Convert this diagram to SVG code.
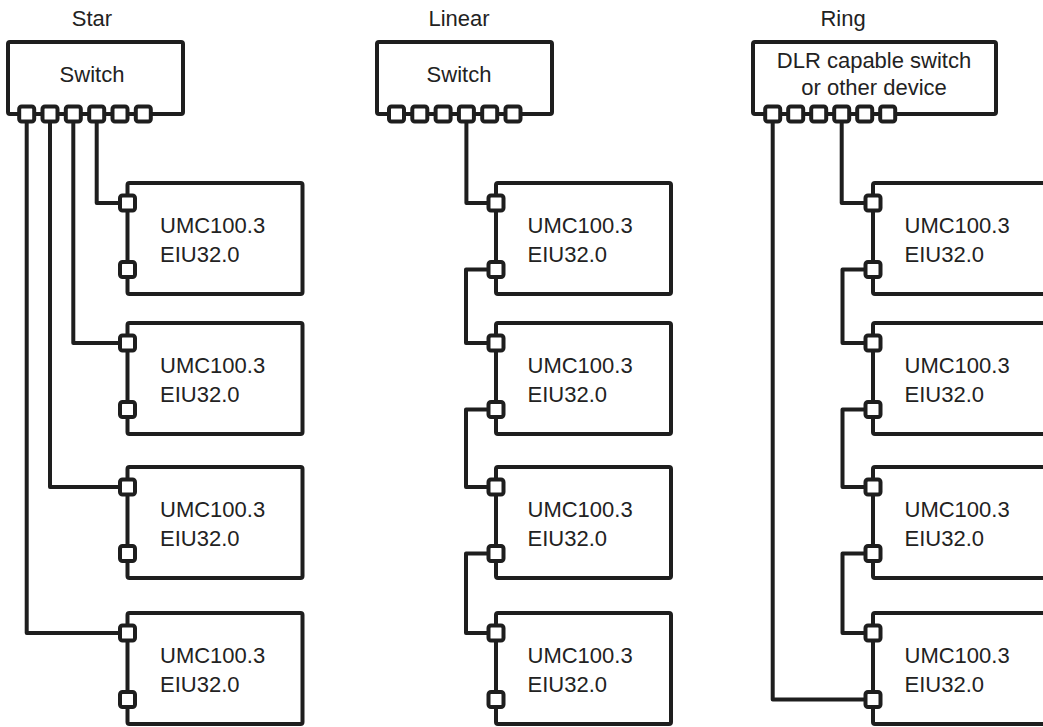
<svg xmlns="http://www.w3.org/2000/svg" xmlns:xlink="http://www.w3.org/1999/xlink" width="1043" height="727" viewBox="0 0 1043 727">
  <style>
    .box { fill: #ffffff; stroke: #1e1e1e; stroke-width: 4; stroke-linejoin: round; }
    .port { fill: #ffffff; stroke: #1e1e1e; stroke-width: 4; }
    .wire { fill: none; stroke: #1e1e1e; stroke-width: 4; stroke-linejoin: round; stroke-linecap: butt; }
    text { font-family: "Liberation Sans", Arial, sans-serif; font-size: 22px; fill: #222222; }
    .c { text-anchor: middle; }
  </style>
  <defs>
    <rect id="port" class="port" x="-7.5" y="-7.5" width="15" height="15" rx="2.5" ry="2.5"/>
  </defs>
  <rect width="1043" height="727" fill="#ffffff"/>

  <!-- titles -->
  <text class="c" x="92" y="26">Star</text>
  <text class="c" x="459" y="26">Linear</text>
  <text class="c" x="843" y="26">Ring</text>

  <!-- connectors -->
  <g id="connectors">
    <!-- star -->
    <path class="wire" d="M96.7 114 V203 H127.5"/>
    <path class="wire" d="M73.3 114 V343 H127.5"/>
    <path class="wire" d="M50 114 V487 H127.5"/>
    <path class="wire" d="M26.7 114 V633 H127.5"/>
    <!-- linear -->
    <path class="wire" d="M466.4 114 V203 H496"/>
    <path class="wire" d="M496 269.5 H466 V343 H496"/>
    <path class="wire" d="M496 409.5 H466 V487 H496"/>
    <path class="wire" d="M496 553.5 H466 V633 H496"/>
    <!-- ring -->
    <path class="wire" d="M841.7 114 V203 H873"/>
    <path class="wire" d="M873 269.5 H842.5 V343 H873"/>
    <path class="wire" d="M873 409.5 H842.5 V487 H873"/>
    <path class="wire" d="M873 553.5 H842.5 V633 H873"/>
    <path class="wire" d="M772.7 114 V699.5 H873"/>
  </g>

  <!-- star switch -->
  <g id="star-switch">
    <rect class="box" x="8" y="42" width="175" height="72" rx="2"/>
    <text class="c" x="92" y="82">Switch</text>
    <use xlink:href="#port" x="26.7" y="114"/>
    <use xlink:href="#port" x="50" y="114"/>
    <use xlink:href="#port" x="73.3" y="114"/>
    <use xlink:href="#port" x="96.7" y="114"/>
    <use xlink:href="#port" x="120" y="114"/>
    <use xlink:href="#port" x="143.3" y="114"/>
  </g>

  <!-- linear switch -->
  <g id="linear-switch">
    <rect class="box" x="377" y="42" width="175" height="72" rx="2"/>
    <text class="c" x="459" y="82">Switch</text>
    <use xlink:href="#port" x="396.5" y="114"/>
    <use xlink:href="#port" x="419.8" y="114"/>
    <use xlink:href="#port" x="443.1" y="114"/>
    <use xlink:href="#port" x="466.4" y="114"/>
    <use xlink:href="#port" x="489.7" y="114"/>
    <use xlink:href="#port" x="513" y="114"/>
  </g>

  <!-- ring switch -->
  <g id="ring-switch">
    <rect class="box" x="753" y="42" width="243" height="72" rx="2"/>
    <text class="c" x="874" y="68">DLR capable switch</text>
    <text class="c" x="874" y="95">or other device</text>
    <use xlink:href="#port" x="772.7" y="114"/>
    <use xlink:href="#port" x="795.7" y="114"/>
    <use xlink:href="#port" x="818.7" y="114"/>
    <use xlink:href="#port" x="841.7" y="114"/>
    <use xlink:href="#port" x="864.7" y="114"/>
    <use xlink:href="#port" x="887.7" y="114"/>
  </g>

  <!-- star devices -->
  <g id="star-dev1">
    <rect class="box" x="127.5" y="183" width="175" height="111" rx="2"/>
    <text x="160" y="233">UMC100.3</text><text x="160" y="262">EIU32.0</text>
    <use xlink:href="#port" x="127.5" y="203"/><use xlink:href="#port" x="127.5" y="269.5"/>
  </g>
  <g id="star-dev2">
    <rect class="box" x="127.5" y="323" width="175" height="111" rx="2"/>
    <text x="160" y="373">UMC100.3</text><text x="160" y="402">EIU32.0</text>
    <use xlink:href="#port" x="127.5" y="343"/><use xlink:href="#port" x="127.5" y="409.5"/>
  </g>
  <g id="star-dev3">
    <rect class="box" x="127.5" y="467" width="175" height="111" rx="2"/>
    <text x="160" y="517">UMC100.3</text><text x="160" y="546">EIU32.0</text>
    <use xlink:href="#port" x="127.5" y="487"/><use xlink:href="#port" x="127.5" y="553.5"/>
  </g>
  <g id="star-dev4">
    <rect class="box" x="127.5" y="613" width="175" height="111" rx="2"/>
    <text x="160" y="663">UMC100.3</text><text x="160" y="692">EIU32.0</text>
    <use xlink:href="#port" x="127.5" y="633"/><use xlink:href="#port" x="127.5" y="699.5"/>
  </g>

  <!-- linear devices -->
  <g id="linear-dev1">
    <rect class="box" x="496" y="183" width="175" height="111" rx="2"/>
    <text x="527.5" y="233">UMC100.3</text><text x="527.5" y="262">EIU32.0</text>
    <use xlink:href="#port" x="496" y="203"/><use xlink:href="#port" x="496" y="269.5"/>
  </g>
  <g id="linear-dev2">
    <rect class="box" x="496" y="323" width="175" height="111" rx="2"/>
    <text x="527.5" y="373">UMC100.3</text><text x="527.5" y="402">EIU32.0</text>
    <use xlink:href="#port" x="496" y="343"/><use xlink:href="#port" x="496" y="409.5"/>
  </g>
  <g id="linear-dev3">
    <rect class="box" x="496" y="467" width="175" height="111" rx="2"/>
    <text x="527.5" y="517">UMC100.3</text><text x="527.5" y="546">EIU32.0</text>
    <use xlink:href="#port" x="496" y="487"/><use xlink:href="#port" x="496" y="553.5"/>
  </g>
  <g id="linear-dev4">
    <rect class="box" x="496" y="613" width="175" height="111" rx="2"/>
    <text x="527.5" y="663">UMC100.3</text><text x="527.5" y="692">EIU32.0</text>
    <use xlink:href="#port" x="496" y="633"/><use xlink:href="#port" x="496" y="699.5"/>
  </g>

  <!-- ring devices -->
  <g id="ring-dev1">
    <rect class="box" x="873" y="183" width="175" height="111" rx="2"/>
    <text x="904.5" y="233">UMC100.3</text><text x="904.5" y="262">EIU32.0</text>
    <use xlink:href="#port" x="873" y="203"/><use xlink:href="#port" x="873" y="269.5"/>
  </g>
  <g id="ring-dev2">
    <rect class="box" x="873" y="323" width="175" height="111" rx="2"/>
    <text x="904.5" y="373">UMC100.3</text><text x="904.5" y="402">EIU32.0</text>
    <use xlink:href="#port" x="873" y="343"/><use xlink:href="#port" x="873" y="409.5"/>
  </g>
  <g id="ring-dev3">
    <rect class="box" x="873" y="467" width="175" height="111" rx="2"/>
    <text x="904.5" y="517">UMC100.3</text><text x="904.5" y="546">EIU32.0</text>
    <use xlink:href="#port" x="873" y="487"/><use xlink:href="#port" x="873" y="553.5"/>
  </g>
  <g id="ring-dev4">
    <rect class="box" x="873" y="613" width="175" height="111" rx="2"/>
    <text x="904.5" y="663">UMC100.3</text><text x="904.5" y="692">EIU32.0</text>
    <use xlink:href="#port" x="873" y="633"/><use xlink:href="#port" x="873" y="699.5"/>
  </g>
</svg>
